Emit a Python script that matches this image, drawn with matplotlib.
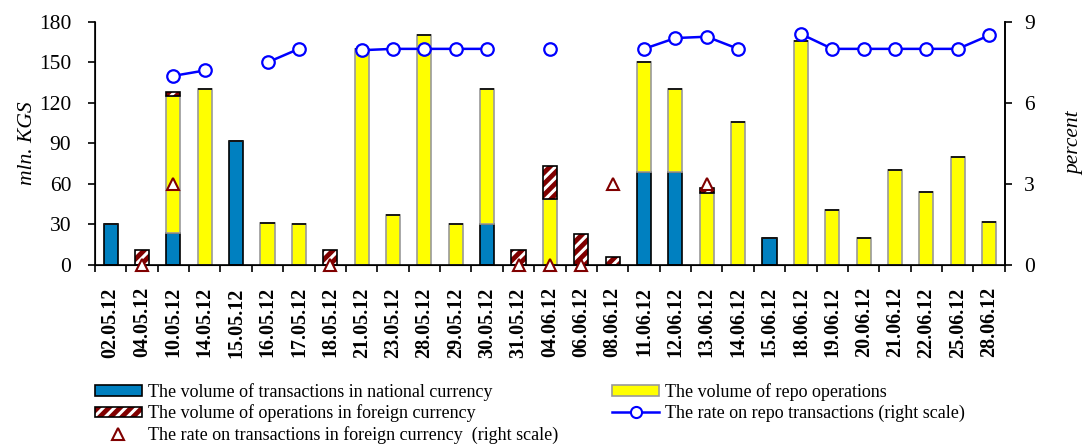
import matplotlib
matplotlib.use("Agg")
import matplotlib.pyplot as plt
import matplotlib.patches as mpatches
from matplotlib.lines import Line2D
import numpy as np

nan = np.nan

dates = ["02.05.12", "04.05.12", "10.05.12", "14.05.12", "15.05.12", "16.05.12",
         "17.05.12", "18.05.12", "21.05.12", "23.05.12", "28.05.12", "29.05.12",
         "30.05.12", "31.05.12", "04.06.12", "06.06.12", "08.06.12", "11.06.12",
         "12.06.12", "13.06.12", "14.06.12", "15.06.12", "18.06.12", "19.06.12",
         "20.06.12", "21.06.12", "22.06.12", "25.06.12", "28.06.12"]

# mln. KGS
national = [30, 0, 24, 0, 92, 0, 0, 0, 0, 0, 0, 0, 30, 0, 0, 0, 0, 69, 69, 0,
            0, 20, 0, 0, 0, 0, 0, 0, 0]
repo = [0, 0, 101, 130, 0, 31, 30, 0, 160, 37, 170, 30, 100, 0, 49, 0, 0, 81,
        61, 53, 106, 0, 166, 41, 20, 70, 54, 80, 32]
foreign = [0, 11, 3, 0, 0, 0, 0, 11, 0, 0, 0, 0, 0, 11, 24, 23, 5.5, 0, 0, 4,
           0, 0, 0, 0, 0, 0, 0, 0, 0]

# percent (right scale)
repo_rate = [nan, nan, 7.0, 7.2, nan, 7.5, 8.0, nan, 7.95, 8.0, 8.0, 8.0, 8.0,
             nan, 8.0, nan, nan, 8.0, 8.4, 8.45, 8.0, nan, 8.55, 8.0, 8.0, 8.0,
             8.0, 8.0, 8.5]
fx_rate = [nan, 0, 3, nan, nan, nan, nan, 0, nan, nan, nan, nan, nan, 0, 0, 0,
           3, nan, nan, 3, nan, nan, nan, nan, nan, nan, nan, nan, nan]

plt.rcParams["font.family"] = ["Liberation Serif", "DejaVu Serif"]
plt.rcParams["hatch.linewidth"] = 2.2

BLUE = "#0080C0"
YELLOW = "#FFFF00"
DARKRED = "#800000"

fig = plt.figure(figsize=(10.84, 4.46), dpi=100)
ax = fig.add_axes([0.0876, 0.406, 0.8394, 0.545])

x = np.arange(len(dates))
w = 0.45
nat = np.array(national, dtype=float)
rep = np.array(repo, dtype=float)
frx = np.array(foreign, dtype=float)

ax.bar(x, nat, w, color=BLUE, edgecolor="black", linewidth=1.2, zorder=2)
ax.bar(x, rep, w, bottom=nat, color=YELLOW, edgecolor="#999999", linewidth=1.2, zorder=2)
ax.bar(x, frx, w, bottom=nat + rep, color=DARKRED, edgecolor="white", hatch="///",
       linewidth=0, zorder=2)
ax.bar(x, frx, w, bottom=nat + rep, fill=False, edgecolor="black", linewidth=1.2, zorder=3)

ax.set_xlim(-0.5, len(dates) - 0.5)
ax.set_ylim(0, 180)
ax.set_yticks(np.arange(0, 181, 30))
ax.set_xticks(x)
ax.set_xticklabels(dates, rotation=90, fontweight="bold", fontsize=14.5)
ax.set_xticks(np.arange(-0.5, len(dates), 1), minor=True)
ax.tick_params(axis="x", which="major", length=0, pad=16)
ax.tick_params(axis="x", which="minor", length=5, width=1.2, direction="out")
ax.tick_params(axis="y", labelsize=15.5, length=5, width=1.2, pad=12)
ax.spines["top"].set_visible(False)
for s in ("left", "bottom", "right"):
    ax.spines[s].set_linewidth(1.2)
ax.set_ylabel("mln. KGS", fontstyle="italic", fontsize=15.5, labelpad=1.5)

ax2 = ax.twinx()
ax2.set_ylim(0, 9)
ax2.set_yticks([0, 3, 6, 9])
ax2.tick_params(axis="y", labelsize=15.5, length=5, width=1.2, pad=9)
ax2.spines["top"].set_visible(False)
ax2.spines["right"].set_linewidth(1.2)
ax2.set_ylabel("percent", fontstyle="italic", fontsize=15.5, labelpad=22)

ax2.plot(x, repo_rate, color="#0000FF", lw=1.8, marker="o", markersize=9,
         markerfacecolor="white", markeredgecolor="#0000FF", markeredgewidth=1.6,
         zorder=4, clip_on=False)
ax2.plot(x, fx_rate, linestyle="none", marker="^", markersize=9,
         markerfacecolor="white", markeredgecolor=DARKRED, markeredgewidth=1.5,
         zorder=4, clip_on=False)

h_nat = mpatches.Patch(facecolor=BLUE, edgecolor="black", linewidth=1.2)
h_fx = (mpatches.Patch(facecolor=DARKRED, edgecolor="white", hatch="///", linewidth=0),
        mpatches.Patch(fill=False, edgecolor="black", linewidth=1.2))
h_tri = Line2D([], [], linestyle="none", marker="^", markersize=8,
               markerfacecolor="white", markeredgecolor=DARKRED, markeredgewidth=1.5)
h_rep = mpatches.Patch(facecolor=YELLOW, edgecolor="#999999", linewidth=1.2)
h_line = Line2D([], [], color="#0000FF", lw=1.8, marker="o", markersize=8,
                markerfacecolor="white", markeredgecolor="#0000FF", markeredgewidth=1.5)

fig.legend([h_nat, h_fx, h_tri, h_rep, h_line],
           ["The volume of transactions in national currency",
            "The volume of operations in foreign currency",
            "The rate on transactions in foreign currency  (right scale)",
            "The volume of repo operations",
            "The rate on repo transactions (right scale)"],
           loc="upper left", bbox_to_anchor=(0.0876, 0.142), ncol=2,
           frameon=False, fontsize=13, handlelength=2.6, handleheight=0.55,
           handletextpad=0.33, labelspacing=0.22, columnspacing=3.0,
           numpoints=1, borderaxespad=0, borderpad=0)

fig.savefig("out.png", dpi=100)
